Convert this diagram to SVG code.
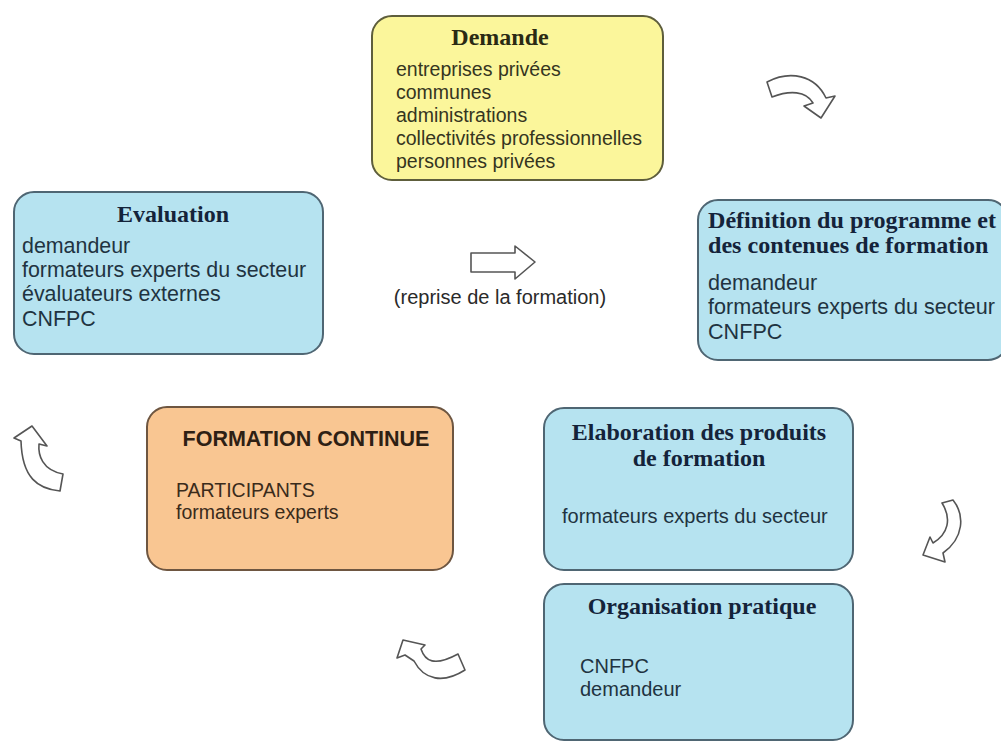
<svg xmlns="http://www.w3.org/2000/svg" width="1001" height="745" viewBox="0 0 1001 745">
<style>
.box{stroke-width:2}
.blue{fill:#b6e3f0;stroke:#4f6673}
.yellow{fill:#fbf69b;stroke:#5e5e3c}
.orange{fill:#f9c692;stroke:#6e5641}
.title{font-family:"Liberation Serif",serif;font-weight:bold;font-size:24px;fill:#14233a}
.body{font-family:"Liberation Sans",Arial,sans-serif;fill:#1f3341}
.ybody{font-family:"Liberation Sans",Arial,sans-serif;fill:#35351f}
.obody{font-family:"Liberation Sans",Arial,sans-serif;fill:#3a2b1b}
.arrow{fill:#ffffff;stroke:#555555;stroke-width:1.6;stroke-linejoin:round}
</style>
<rect x="0" y="0" width="1001" height="745" fill="#ffffff"/>

<g id="demande">
<rect class="box yellow" x="372" y="16" width="291" height="164" rx="20"/>
<text class="title" x="500" y="45" text-anchor="middle" style="fill:#2a2a14">Demande</text>
<g class="ybody" font-size="19.5">
<text x="396" y="76">entreprises privées</text>
<text x="396" y="99">communes</text>
<text x="396" y="122">administrations</text>
<text x="396" y="145">collectivités professionnelles</text>
<text x="396" y="168">personnes privées</text>
</g>
</g>

<g id="evaluation">
<rect class="box blue" x="14" y="192" width="309" height="162" rx="20"/>
<text class="title" x="173" y="222" text-anchor="middle">Evaluation</text>
<g class="body" font-size="21.4">
<text x="22" y="253">demandeur</text>
<text x="22" y="277">formateurs experts du secteur</text>
<text x="22" y="301">évaluateurs externes</text>
<text x="22" y="326">CNFPC</text>
</g>
</g>

<g id="definition">
<rect class="box blue" x="698" y="200" width="310" height="160" rx="20"/>
<text class="title" x="708" y="228" style="font-size:24.1px">Définition du programme et</text>
<text class="title" x="708" y="253" style="font-size:24.1px">des contenues de formation</text>
<g class="body" font-size="21.6">
<text x="708" y="290">demandeur</text>
<text x="708" y="314">formateurs experts du secteur</text>
<text x="708" y="339">CNFPC</text>
</g>
</g>

<g id="elaboration">
<rect class="box blue" x="544" y="408" width="309" height="162" rx="20"/>
<text class="title" x="699" y="440" text-anchor="middle">Elaboration des produits</text>
<text class="title" x="699" y="466" text-anchor="middle">de formation</text>
<text class="body" font-size="20" x="562" y="523">formateurs experts du secteur</text>
</g>

<g id="organisation">
<rect class="box blue" x="544" y="584" width="309" height="156" rx="20"/>
<text class="title" x="702" y="614" text-anchor="middle">Organisation pratique</text>
<g class="body" font-size="20">
<text x="580" y="673">CNFPC</text>
<text x="580" y="696">demandeur</text>
</g>
</g>

<g id="formation-continue">
<rect class="box orange" x="147" y="407" width="306" height="163" rx="20"/>
<text x="306" y="446" text-anchor="middle" font-family="Liberation Sans, Arial, sans-serif" font-weight="bold" font-size="21.5" fill="#2e2014">FORMATION CONTINUE</text>
<g class="obody" font-size="19.5">
<text x="176" y="497">PARTICIPANTS</text>
<text x="176" y="519">formateurs experts</text>
</g>
</g>

<g id="reprise">
<path class="arrow" d="M471,253 L515,253 L515,246 L535,262 L515,279 L515,272 L471,272 Z"/>
<text x="500" y="304" text-anchor="middle" font-family="Liberation Sans, Arial, sans-serif" font-size="20" fill="#2a2a2a">(reprise de la formation)</text>
</g>

<g id="connectors">
<path class="arrow" d="M767,82 C790,70 815,75 826,98 L835,96 L821,118 L804,106 L813,103 C806,91 790,90 772,97 Z"/>
<path class="arrow" d="M953,500 C965,515 964,538 943,553 L945,562 L923,555 L930,537 L933,543 C948,534 952,519 942,503 Z"/>
<path class="arrow" d="M403,640 L425,645 L421,649 C425,661 434,667 458,654 L465,670 C443,684 424,680 414,661 L405,655 L397,658 Z"/>
<path class="arrow" d="M32,426 L47,446 L39,444 C38,455 42,470 63,474 L60,491 C38,489 22,478 21,441 L14,438 Z"/>
</g>
</svg>
